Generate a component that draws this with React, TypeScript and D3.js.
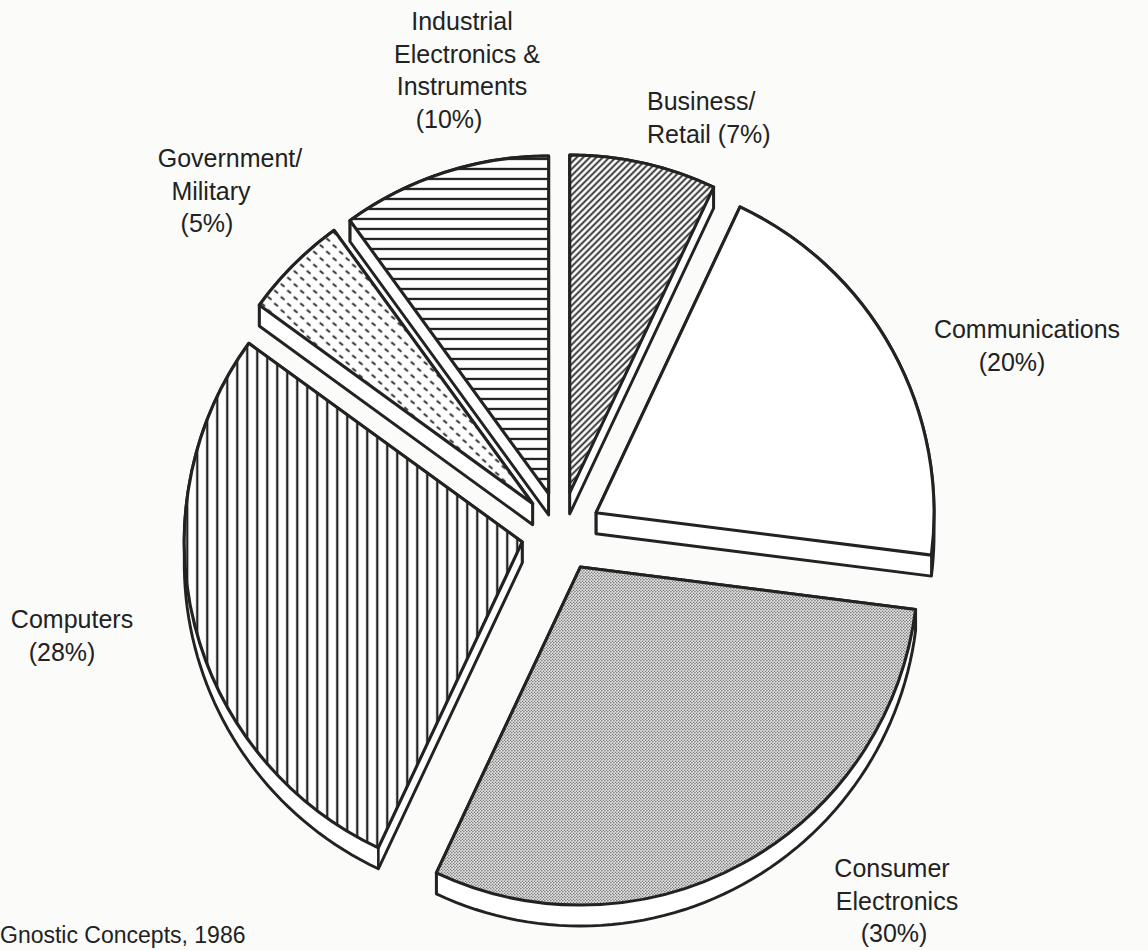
import React from "react";
import * as d3 from "d3";

// ---- data ----
const categories = [
  "Business/Retail",
  "Communications",
  "Consumer Electronics",
  "Computers",
  "Government/Military",
  "Industrial Electronics & Instruments",
];
const shares = [7, 20, 30, 28, 5, 10];
const labelLines = [
  ["Business/", "Retail (7%)"],
  ["Communications", "(20%)"],
  ["Consumer", "Electronics", "(30%)"],
  ["Computers", "(28%)"],
  ["Government/", "Military", "(5%)"],
  ["Industrial", "Electronics &", "Instruments", "(10%)"],
];
const fills = ["diag", "none", "dots", "vert", "dash", "horiz"];
const sourceNote = "Gnostic Concepts, 1986";

// ---- layout ----
const W = 1148;
const H = 950;
const CX = 561;
const CY = 532;
const R = 338;
const EXPLODE = 40;
const DEPTH = 21;
const INK = "#222";
const FONT = "'Liberation Sans', Arial, Helvetica, sans-serif";
const FS = 25;
const LINE = 32.5;

// label placement: per-line x, first baseline y
const labelLayout = [
  { xs: [647, 647], y: 110, anchor: "start" },
  { xs: [1027, 1012], y: 338, anchor: "middle" },
  { xs: [892, 897, 894], y: 877, anchor: "middle" },
  { xs: [72, 62], y: 628, anchor: "middle" },
  { xs: [230, 211, 207], y: 167, anchor: "middle" },
  { xs: [462, 467, 462, 449], y: 30, anchor: "middle" },
];

export default function App() {
  const pie = d3
    .pie<number>()
    .sort(null)
    .startAngle(0)
    .endAngle(2 * Math.PI)
    .value((d) => d);
  const arcs = pie(shares);
  const arcGen = d3.arc<any>().innerRadius(0).outerRadius(R);

  const slices = arcs.map((a, i) => {
    const mid = (a.startAngle + a.endAngle) / 2;
    const ax = CX + EXPLODE * Math.sin(mid);
    const ay = CY - EXPLODE * Math.cos(mid);
    const pts: [number, number][] = [[ax, ay]];
    const N = 60;
    for (let k = 0; k <= N; k++) {
      const t = a.startAngle + ((a.endAngle - a.startAngle) * k) / N;
      pts.push([ax + R * Math.sin(t), ay - R * Math.cos(t)]);
    }
    const all = pts.concat(pts.map(([x, y]) => [x, y + DEPTH] as [number, number]));
    const hull = d3.polygonHull(all) || [];
    const verts: [number, number][] = [
      [ax, ay],
      [ax + R * Math.sin(a.startAngle), ay - R * Math.cos(a.startAngle)],
      [ax + R * Math.sin(a.endAngle), ay - R * Math.cos(a.endAngle)],
    ];
    return {
      i,
      ax,
      ay,
      path: arcGen({ startAngle: a.startAngle, endAngle: a.endAngle }) as string,
      hull: "M" + hull.map((p) => p.join(",")).join("L") + "Z",
      verts,
    };
  });

  return (
    <svg
      width={W}
      height={H}
      style={{ position: "absolute", left: 0, top: 0, display: "block" }}
    >
      <defs>
        <pattern id="p-diag" patternUnits="userSpaceOnUse" width={4.6} height={4.6} patternTransform="rotate(45)">
          <line x1={2.3} y1={0} x2={2.3} y2={4.6} stroke={INK} strokeWidth={1.8} />
        </pattern>
        <pattern id="p-vert" patternUnits="userSpaceOnUse" width={10} height={10}>
          <line x1={5} y1={0} x2={5} y2={10} stroke={INK} strokeWidth={2.3} />
        </pattern>
        <pattern id="p-horiz" patternUnits="userSpaceOnUse" width={10} height={10}>
          <line x1={0} y1={5} x2={10} y2={5} stroke={INK} strokeWidth={2.3} />
        </pattern>
        <pattern id="p-dots" patternUnits="userSpaceOnUse" width={3} height={3}>
          <circle cx={0.75} cy={0.75} r={0.75} fill="#3a3a3a" />
          <circle cx={2.25} cy={2.25} r={0.75} fill="#3a3a3a" />
        </pattern>
        <pattern id="p-dash" patternUnits="userSpaceOnUse" width={13} height={13}>
          <line x1={1.5} y1={7.5} x2={5.3} y2={10.5} stroke={INK} strokeWidth={1.7} />
          <line x1={8} y1={1} x2={11.8} y2={4} stroke={INK} strokeWidth={1.7} />
        </pattern>
      </defs>
      <rect x={0} y={0} width={W} height={H} fill="#fbfbf9" />
      {slices.map((s) => (
        <g key={categories[s.i]}>
          <path d={s.hull} fill="#fff" stroke={INK} strokeWidth={2.9} strokeLinejoin="round" />
          {s.verts.map(([x, y], k) => (
            <line key={k} x1={x} y1={y} x2={x} y2={y + DEPTH} stroke={INK} strokeWidth={2.6} />
          ))}
          <g transform={`translate(${s.ax},${s.ay})`}>
            <path d={s.path} fill="#fff" />
            {fills[s.i] !== "none" && <path d={s.path} fill={`url(#p-${fills[s.i]})`} />}
            <path d={s.path} fill="none" stroke={INK} strokeWidth={3.1} strokeLinejoin="round" />
          </g>
        </g>
      ))}
      {labelLines.map((lines, i) => (
        <text
          key={"lab" + i}
          fontFamily={FONT}
          fontSize={FS}
          fill="#222"
          textAnchor={labelLayout[i].anchor as any}
        >
          {lines.map((ln, k) => (
            <tspan key={k} x={labelLayout[i].xs[k]} y={labelLayout[i].y + k * LINE}>
              {ln}
            </tspan>
          ))}
        </text>
      ))}
      <text x={0} y={943} fontFamily={FONT} fontSize={23} fill="#222">
        {sourceNote}
      </text>
    </svg>
  );
}
